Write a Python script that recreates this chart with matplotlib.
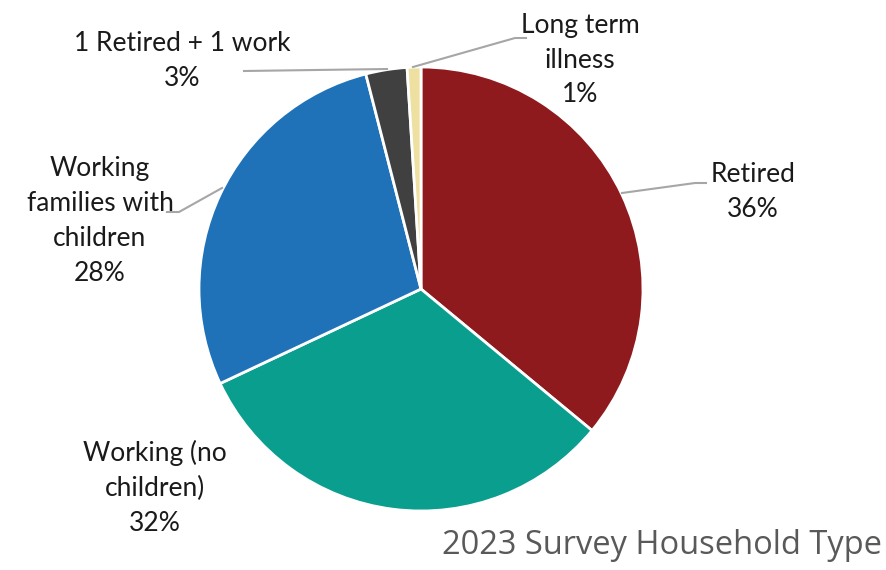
import matplotlib.pyplot as plt

# household type shares (percent), clockwise from 12 o'clock
categories = ["Retired", "Working (no\nchildren)", "Working\nfamilies with\nchildren",
              "1 Retired + 1 work", "Long term\nillness"]
shares = [36, 32, 28, 3, 1]
colors = ["#8f1a1e", "#0a9e8f", "#1f72b8", "#404040", "#ede0a0"]

W, H = 886, 570
fig = plt.figure(figsize=(W / 100, H / 100), dpi=100)
ax = fig.add_axes([0, 0, 1, 1])

cx, cy, r = 421, H - 289, 222
ax.pie(shares, colors=colors, startangle=90, counterclock=False,
       center=(cx, cy), radius=r, frame=True,
       wedgeprops=dict(edgecolor="white", linewidth=2))
ax.set_xlim(0, W)
ax.set_ylim(0, H)
ax.set_aspect("equal")
ax.axis("off")

font = dict(family="Lato", fontsize=19, color="#1a1a1a", ha="center",
            va="center", linespacing=1.5)

def lab(i):
    return "%s\n%d%%" % (categories[i], shares[i])

# label positions and leader lines (pixel coords from top)
ax.text(753, H - 192, lab(0), **font)
ax.text(155, H - 488, lab(1), **font)
ax.text(100, H - 221, lab(2), **font)
ax.text(182, H - 61, lab(3), **font)
ax.text(580, H - 60, lab(4), **font)

leader = dict(color="#a6a6a6", linewidth=1.5)
ax.plot([622, 695, 706], [H - 193, H - 183, H - 183], **leader)
ax.plot([167, 179, 222], [H - 212, H - 212, H - 188], **leader)
ax.plot([244, 387], [H - 71, H - 69], **leader)
ax.plot([413, 515, 526], [H - 67, H - 38, H - 38], **leader)

ax.text(882, H - 546, "2023 Survey Household Type", family="Open Sans",
        fontsize=23.5, color="#595959", ha="right", va="center")

plt.savefig("out.png", dpi=100)
